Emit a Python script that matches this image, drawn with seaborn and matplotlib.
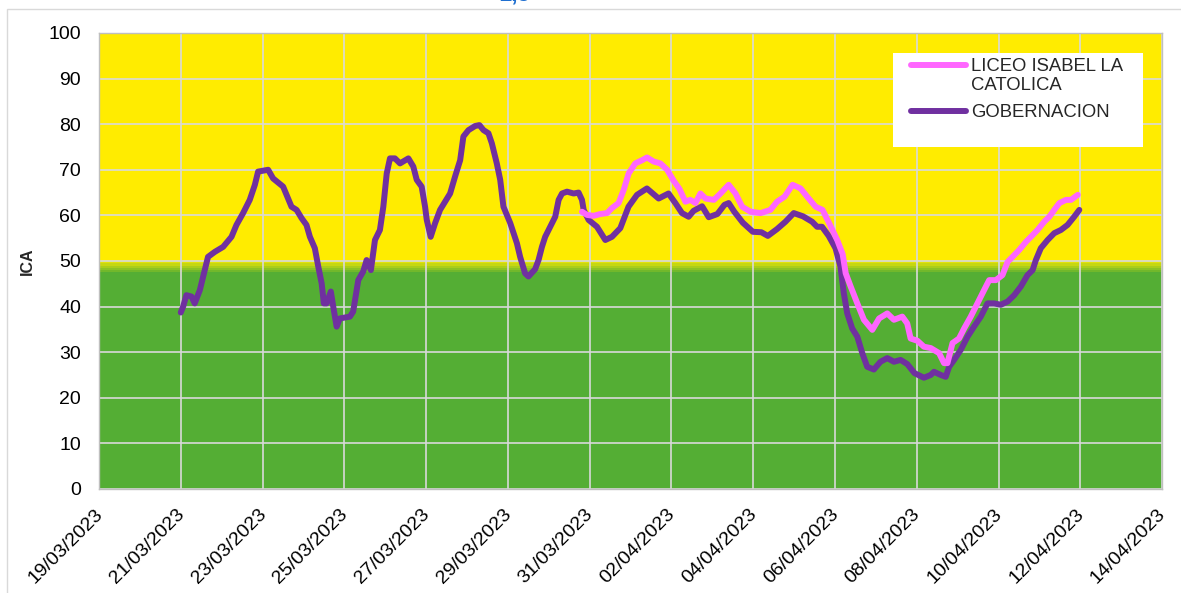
import numpy as np
import pandas as pd
import matplotlib.pyplot as plt
import matplotlib.dates as mdates
import matplotlib.colors as mcolors
from matplotlib.patches import Rectangle
from matplotlib.transforms import ScaledTranslation
import seaborn as sns

# hours since 21/03/2023 00:00, ICA values
gob_hours = [0, 1.4, 3.3, 6.3, 8.2, 11.2, 14.1, 16.0, 20.0, 24.9, 29.8, 32.7, 36.6, 40.5, 43.5, 45.4,
             48.4, 51.3, 54.2, 60.1, 63.0, 65.0, 68.0, 70.9, 73.8, 75.8, 78.7, 80.7, 82.7, 84.0, 85.6,
             88.1, 89.5, 91.5, 93.4, 99.3, 101.2, 104.2, 107.1, 109.1, 111.6, 114.0, 116.9, 118.9,
             120.9, 122.8, 125.7, 128.7, 133.6, 136.5, 138.5, 141.4, 143.4, 144.4, 146.7, 149.3,
             152.2, 158.1, 161.0, 164.0, 165.9, 168.9, 172.8, 175.3, 177.7, 180.6, 182.6, 185.5,
             187.5, 189.4, 193.4, 197.3, 199.2, 202.1, 204.1, 208.0, 210.0, 212.0, 213.9, 217.9,
             219.8, 221.8, 223.8, 226.7, 230.6, 233.5, 235.5, 236.5, 239.4, 244.3, 249.2, 253.1,
             258.0, 262.8, 267.8, 273.6, 280.5, 286.3, 290.3, 294.2, 298.1, 301.0, 306.0, 309.9,
             315.0, 319.1, 321.6, 324.9, 329.9, 335.8, 340.8, 344.6, 350.0, 354.9, 359.8, 365.2,
             370.6, 373.5, 376.4, 380.3, 384.3, 387.2, 389.2, 391.2, 394.1, 397.1, 400.0, 402.9,
             406.8, 410.7, 414.7, 418.6, 422.5, 426.4, 430.7, 436.2, 440.2, 442.1, 446.1, 449.0,
             451.0, 453.9, 457.8, 461.8, 465.6, 469.6, 473.5, 477.4, 481.3, 485.3, 489.2, 493.1,
             497.0, 500.0, 501.9, 504.8, 508.8, 512.7, 516.6, 520.5, 524.4, 527.4]
gob_ica = [38.7, 40.0, 42.5, 42.2, 40.7, 43.6, 48.0, 50.9, 52.0, 53.1, 55.3, 57.9, 60.5, 63.4, 66.7, 69.6,
           69.8, 70.0, 68.1, 66.3, 63.7, 61.9, 61.2, 59.4, 57.9, 55.3, 52.8, 48.8, 45.1, 40.7, 40.7,
           43.3, 40.0, 35.6, 37.4, 37.8, 38.9, 45.8, 47.7, 50.2, 48.0, 54.6, 56.8, 61.9,
           69.2, 72.5, 72.5, 71.4, 72.5, 70.7, 67.8, 66.3, 61.9, 59.0, 55.3, 58.3,
           61.2, 64.8, 68.5, 72.1, 77.3, 78.7, 79.6, 79.8, 78.7, 78.0, 75.8, 71.4,
           67.8, 61.9, 58.3, 53.9, 50.9, 47.3, 46.6, 48.2, 50.2, 53.1, 55.3, 58.3,
           59.7, 63.4, 64.8, 65.2, 64.8, 65.0, 63.4, 61.2, 59.0, 57.5, 54.6, 55.3,
           57.2, 61.9, 64.5, 65.9, 63.7, 64.8, 62.7, 60.5, 59.7, 61.0, 62.0, 59.6,
           60.3, 62.3, 62.7, 60.8, 58.4, 56.4, 56.3, 55.5, 57.0, 58.6, 60.5, 59.8,
           58.6, 57.5, 57.5, 55.5, 52.8, 48.8, 42.9, 38.5, 35.2, 33.4, 29.8, 26.8,
           26.2, 27.9, 28.7, 27.9, 28.3, 27.4, 25.4, 24.4, 25.0, 25.7, 25.0, 24.6,
           26.8, 28.3, 30.5, 33.4, 35.6, 37.8, 40.7, 40.7, 40.4, 41.1, 42.5, 44.4,
           46.9, 48.0, 50.2, 52.8, 54.6, 56.1, 56.8, 57.9, 59.7, 61.2]

liceo_hours = [235.5, 238.5, 242.3, 246.3, 250.2, 253.1, 257.0, 260.0, 262.9, 266.8, 270.8, 273.7,
               277.6, 281.5, 285.5, 289.3, 292.7, 296.2, 299.1, 302.1, 305.0, 308.0, 312.9, 316.8,
               321.6, 325.6, 329.5, 334.4, 340.3, 346.1, 350.0, 354.4, 359.1, 363.8, 367.9, 372.6,
               376.7, 380.3, 385.3, 388.5, 390.3, 393.2, 397.1, 401.0, 405.9, 409.9, 414.7, 418.6,
               423.5, 426.4, 428.4, 432.4, 436.2, 440.2, 445.1, 448.0, 450.0, 453.0, 456.8, 459.8,
               463.7, 467.6, 471.5, 474.5, 478.4, 482.3, 485.3, 488.2, 492.1, 496.1, 499.0, 502.9,
               506.8, 509.8, 512.7, 515.7, 519.6, 522.5, 526.5]
liceo_ica = [60.8, 60.1, 59.9, 60.3, 60.5, 61.6, 62.7, 65.6, 69.2, 71.4, 72.1, 72.7,
             71.8, 71.4, 70.0, 67.6, 65.8, 63.0, 63.4, 62.7, 64.8, 63.7, 63.4, 64.8,
             66.7, 64.8, 61.9, 60.8, 60.5, 61.2, 63.0, 64.1, 66.7, 65.9, 64.0, 61.9,
             61.2, 58.5, 54.6, 51.5, 47.3, 44.4, 40.7, 37.1, 34.9, 37.4, 38.5, 37.1,
             37.8, 36.3, 33.0, 32.5, 31.2, 30.9, 29.8, 27.6, 27.6, 32.0, 33.0, 35.2,
             37.8, 40.7, 43.6, 45.8, 45.8, 46.9, 49.8, 50.9, 52.4, 54.2, 55.3, 56.8,
             58.6, 59.7, 61.2, 62.7, 63.4, 63.4, 64.5]

series_names = ['LICEO ISABEL LA\nCATOLICA', 'GOBERNACION']
series_colors = ['#FF66FF', '#7030A0']

start = pd.Timestamp("2023-03-21 00:00")
gob = pd.DataFrame({"fecha": start + pd.to_timedelta(gob_hours, unit="h"), "ica": gob_ica})
liceo = pd.DataFrame({"fecha": start + pd.to_timedelta(liceo_hours, unit="h"), "ica": liceo_ica})

sns.set_style("white")
plt.rcParams['font.family'] = ['Liberation Sans', 'DejaVu Sans']

fig = plt.figure(figsize=(11.81, 5.93), dpi=100)
ax = fig.add_axes([0.0838, 0.1754, 0.9002, 0.769])

# background bands: yellow above 50, green below, short blend in between
yellow = np.array(mcolors.to_rgb('#FFEC00'))
green = np.array(mcolors.to_rgb('#54AE34'))
ax.axhspan(50, 100, color=yellow, zorder=0, lw=0)
ax.axhspan(0, 47.6, color=green, zorder=0, lw=0)
edges = [50, 49.5, 49.0, 48.5, 48.0, 47.6]
for k in range(len(edges) - 1):
    f = (k + 1) / len(edges)
    ax.axhspan(edges[k + 1], edges[k], color=yellow * (1 - f) + green * f, zorder=0, lw=0)

sns.lineplot(data=gob, x="fecha", y="ica", ax=ax, color=series_colors[1], lw=4.3,
             solid_capstyle='round', solid_joinstyle='round', zorder=3)
sns.lineplot(data=liceo, x="fecha", y="ica", ax=ax, color=series_colors[0], lw=4.3,
             solid_capstyle='round', solid_joinstyle='round', zorder=4)

ax.set_xlim(pd.Timestamp("2023-03-19"), pd.Timestamp("2023-04-14"))
ax.set_ylim(0, 100)
ax.set_yticks(range(0, 101, 10))
ax.set_xticks(pd.date_range("2023-03-19", "2023-04-14", freq="2D"))
ax.xaxis.set_major_formatter(mdates.DateFormatter('%d/%m/%Y'))

ax.grid(True, color='#D9D9D9', lw=1.2, zorder=1)
ax.set_axisbelow('line')
for s in ax.spines.values():
    s.set_color('#BFBFBF')
    s.set_linewidth(1)

ax.tick_params(axis='y', length=0, pad=13, labelsize=14, colors='black')
ax.tick_params(axis='x', length=0, pad=12, labelsize=14, colors='black')
shift = ScaledTranslation(-5 / 100, 0, fig.dpi_scale_trans)
for lbl in ax.get_xticklabels():
    lbl.set_rotation(45)
    lbl.set_ha('right')
    lbl.set_va('top')
    lbl.set_rotation_mode('anchor')
    lbl.set_transform(lbl.get_transform() + shift)

ax.set_xlabel('')
ax.set_ylabel('ICA', fontsize=11.5, fontweight='bold', labelpad=10)

# Excel-style legend: white box, handle aligned with the first text line
ax.add_patch(Rectangle((0.747, 0.75), 0.235, 0.206, transform=ax.transAxes,
                       facecolor='white', edgecolor='none', zorder=5))
legend_y = [0.9298, 0.8289]
for name, col, ly in zip(series_names, series_colors, legend_y):
    ax.plot([0.7639, 0.8156], [ly, ly], transform=ax.transAxes, color=col, lw=4.3,
            solid_capstyle='round', zorder=6, clip_on=False)
    ax.text(0.8203, ly + 0.016, name, transform=ax.transAxes, fontsize=13.3, va='top',
            ha='left', linespacing=1.18, zorder=6)

# clipped title and chart-area border from the source sheet
fig.text(0.423, 0.99, '2,5', color='#1F6FD0', fontsize=16, fontweight='bold', va='bottom')
fig.add_artist(Rectangle((0.006, -0.1), 1.2, 1.085, transform=fig.transFigure,
                         fill=False, edgecolor='#D9D9D9', lw=1))

fig.savefig('out.png', dpi=100)
